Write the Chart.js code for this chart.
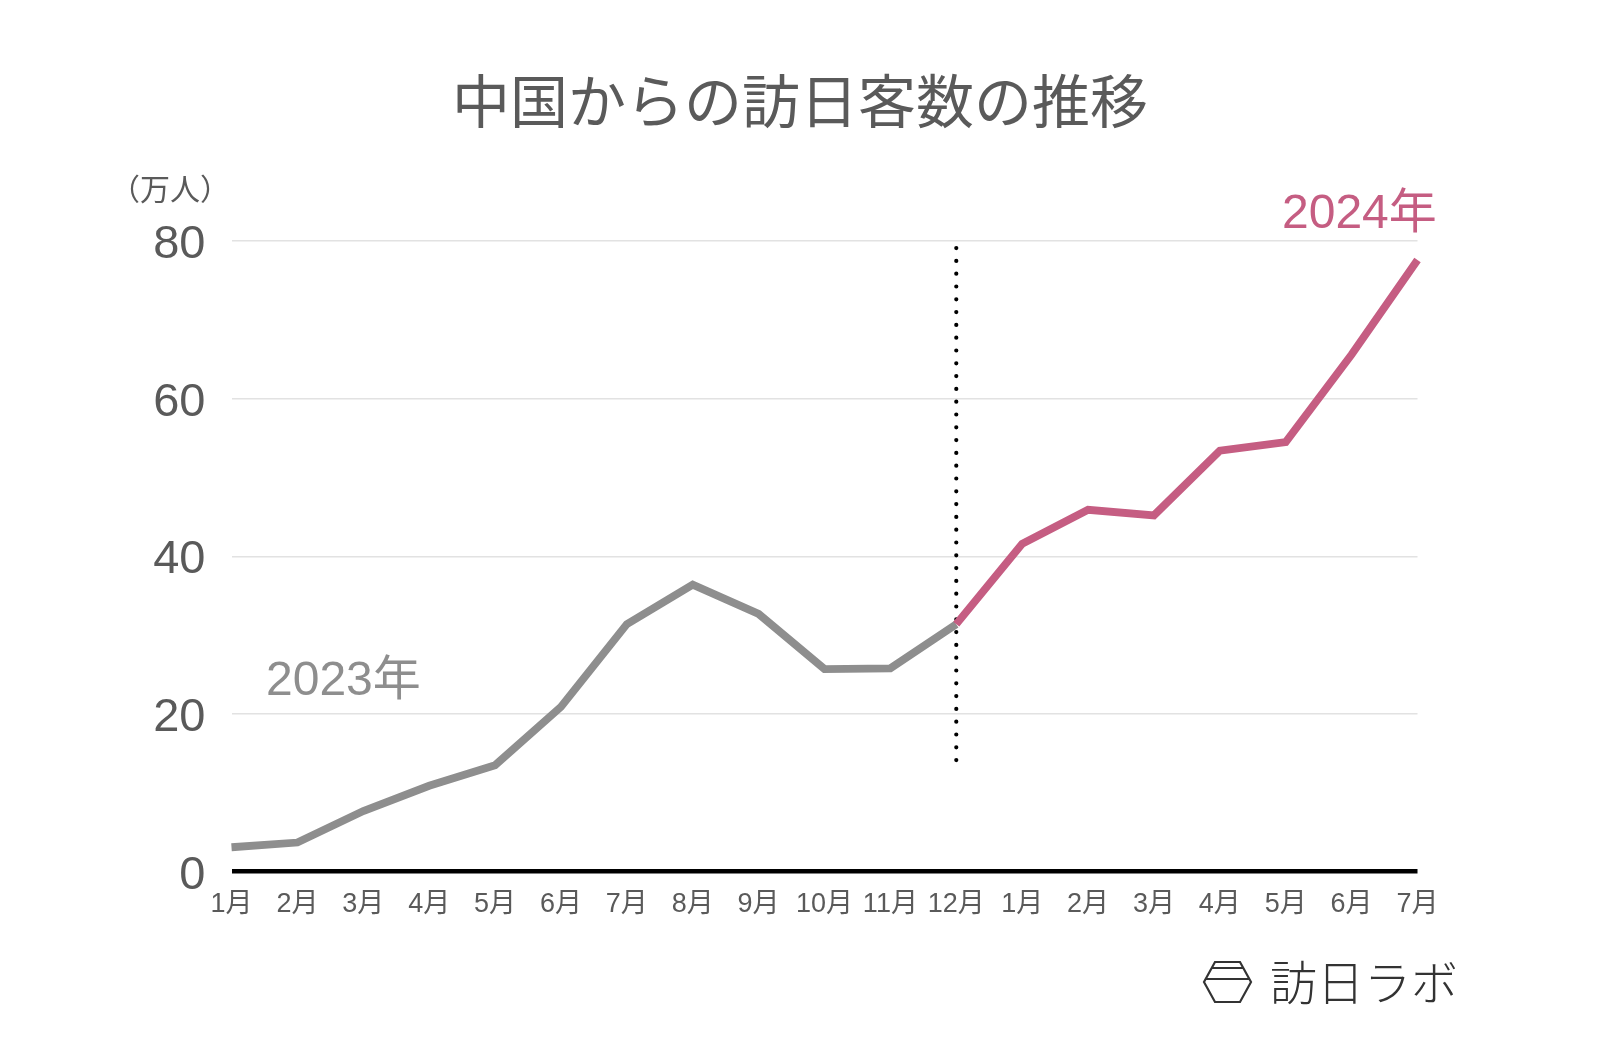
<!DOCTYPE html>
<html>
<head>
<meta charset="utf-8">
<script src="https://cdn.jsdelivr.net/npm/chart.js@4/dist/chart.umd.min.js"></script>
<style>
html,body{margin:0;padding:0;background:#fff;}
#wrap{width:1600px;height:1048px;position:relative;}
</style>
</head>
<body>
<div id="wrap"><canvas id="c" width="1600" height="1048"></canvas></div>
<script>
const monthLabels = ["1月","2月","3月","4月","5月","6月","7月","8月","9月","10月","11月","12月","1月","2月","3月","4月","5月","6月","7月"];
const values2023 = [3.1, 3.7, 7.7, 10.9, 13.5, 20.9, 31.4, 36.4, 32.7, 25.7, 25.8, 31.4];
const values2024 = [41.6, 45.9, 45.2, 53.4, 54.5, 65.6, 77.6];
const yTicks = [0, 20, 40, 60, 80];
const titleText = "中国からの訪日客数の推移";
const unitText = "（万人）";
const label2023 = "2023年";
const label2024 = "2024年";
const logoText = "訪日ラボ";

const FONT = "'Noto Sans CJK JP', 'Noto Sans', sans-serif";
const NUMFONT = "'Liberation Sans', 'Noto Sans CJK JP', sans-serif";
const GRAY = "#8e8e8e";
const PINK = "#c55d82";
const TEXT = "#5a5a5a";

const series2023 = monthLabels.map((_, i) => i < values2023.length ? values2023[i] : null);
const series2024 = monthLabels.map((_, i) => {
  const startIdx = values2023.length - 1;
  if (i === startIdx) return values2023[startIdx];
  if (i > startIdx) return values2024[i - startIdx - 1];
  return null;
});
const dividerIndex = values2023.length - 1;
const dividerRange = [79.1, 13.7];

const decorPlugin = {
  id: 'decor',
  beforeDatasetsDraw(chart) {
    const {ctx, scales: {x, y}} = chart;
    const px = x.getPixelForValue(dividerIndex);
    ctx.save();
    ctx.strokeStyle = '#000';
    ctx.lineWidth = 4.2;
    ctx.lineCap = 'round';
    ctx.setLineDash([0, 12.8]);
    ctx.beginPath();
    ctx.moveTo(px, y.getPixelForValue(dividerRange[0]));
    ctx.lineTo(px, y.getPixelForValue(dividerRange[1]));
    ctx.stroke();
    ctx.restore();
  },
  afterDraw(chart) {
    const {ctx} = chart;
    ctx.save();
    ctx.textBaseline = 'middle';
    ctx.fillStyle = TEXT;
    ctx.textAlign = 'center';
    ctx.font = `400 58px ${FONT}`;
    ctx.fillText(titleText, 800, 101);
    ctx.textAlign = 'left';
    ctx.font = `400 30px ${FONT}`;
    ctx.fillText(unitText, 110, 189);
    ctx.font = `400 48px ${NUMFONT}`;
    ctx.fillStyle = GRAY;
    ctx.fillText(label2023, 266, 682);
    ctx.fillStyle = PINK;
    ctx.fillText(label2024, 1282, 215);
    ctx.strokeStyle = '#333';
    ctx.lineWidth = 2.2;
    ctx.beginPath();
    ctx.moveTo(1215, 962);
    ctx.lineTo(1240, 962);
    ctx.lineTo(1251, 982);
    ctx.lineTo(1240, 1002);
    ctx.lineTo(1215, 1002);
    ctx.lineTo(1204, 982);
    ctx.closePath();
    ctx.stroke();
    ctx.beginPath();
    ctx.moveTo(1212, 968); ctx.lineTo(1243, 968);
    ctx.moveTo(1206, 979); ctx.lineTo(1249, 979);
    ctx.stroke();
    ctx.fillStyle = '#333';
    ctx.font = `200 47px ${FONT}`;
    ctx.fillText(logoText, 1270, 982);
    ctx.restore();
  }
};

new Chart(document.getElementById('c'), {
  type: 'line',
  data: {
    labels: monthLabels,
    datasets: [
      { data: series2024, borderColor: PINK, borderWidth: 7.8, pointRadius: 0, tension: 0, spanGaps: false, order: 0 },
      { data: series2023, borderColor: GRAY, borderWidth: 7.8, pointRadius: 0, tension: 0, spanGaps: false, order: 1 }
    ]
  },
  options: {
    responsive: false,
    animation: false,
    devicePixelRatio: 1,
    layout: { padding: { top: 241, right: 182.5, bottom: 0, left: 0 } },
    plugins: { legend: { display: false }, title: { display: false }, tooltip: { enabled: false } },
    scales: {
      x: {
        offset: false,
        grid: { display: false, drawTicks: false },
        border: { display: false },
        ticks: {
          color: TEXT,
          font: { family: NUMFONT, size: 27 },
          padding: 17,
          maxRotation: 0,
          autoSkip: false
        },
        afterFit(scale) { scale.height = 176.3; }
      },
      y: {
        min: 0,
        max: 80,
        afterBuildTicks(scale) { scale.ticks = yTicks.map(v => ({ value: v })); },
        grid: {
          drawTicks: false,
          color: ctx => ctx.tick && ctx.tick.value === 0 ? '#000' : '#e2e2e2',
          lineWidth: ctx => ctx.tick && ctx.tick.value === 0 ? 4.5 : 1.5
        },
        border: { display: false },
        ticks: {
          color: TEXT,
          font: { family: NUMFONT, size: 47 },
          padding: 26,
          labelOffset: 4
        },
        afterFit(scale) { scale.width = 231.5; }
      }
    }
  },
  plugins: [decorPlugin]
});
</script>
</body>
</html>
